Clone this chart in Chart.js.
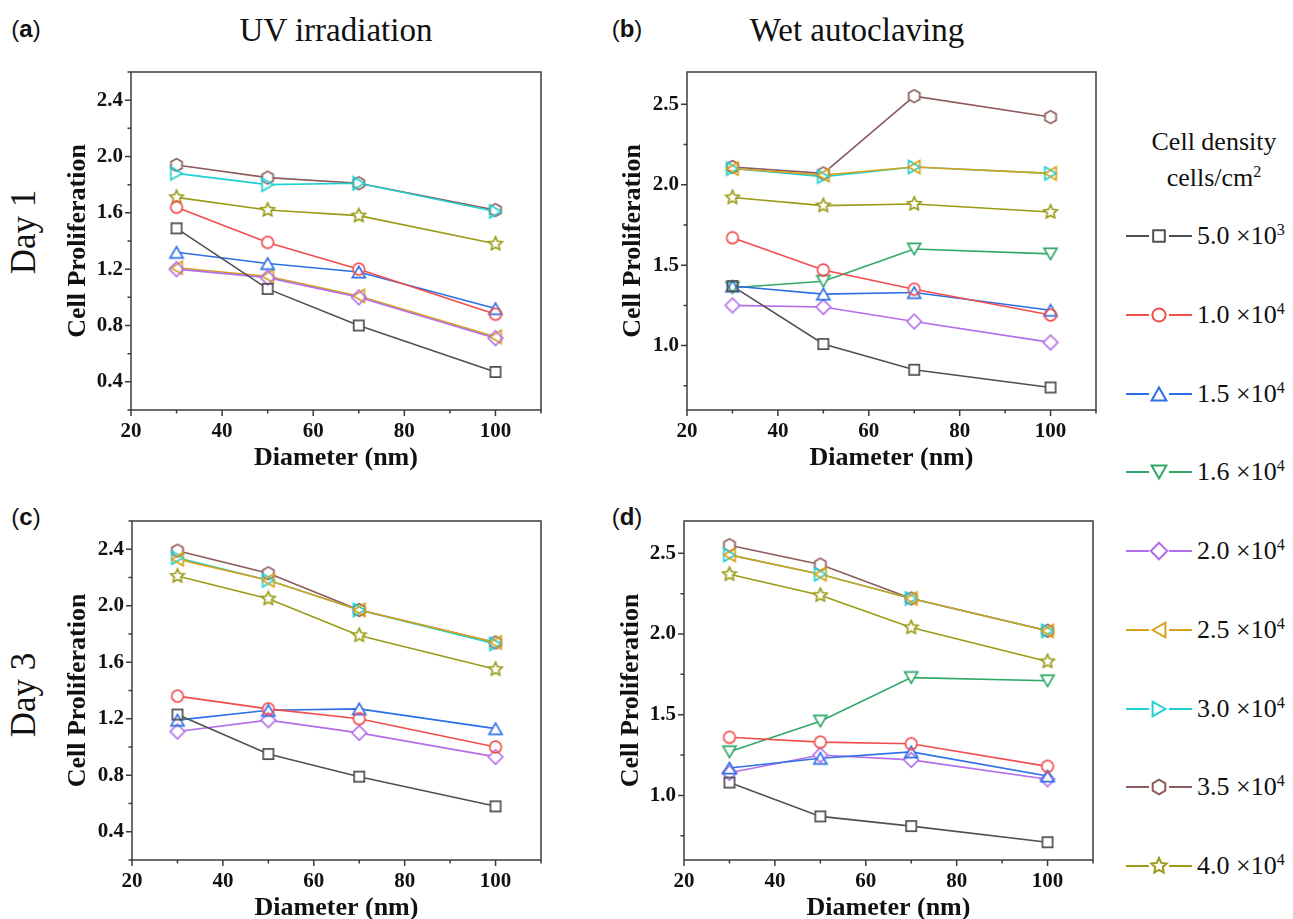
<!DOCTYPE html>
<html>
<head>
<meta charset="utf-8">
<script src="https://cdn.jsdelivr.net/npm/chart.js@4.4.1/dist/chart.umd.min.js"></script>
<style>
  body { margin: 0; background: #fff; }
  #page { position: relative; width: 1293px; height: 919px; overflow: hidden; font-family: "Liberation Serif", serif; color: #111; }
  .hdr { position: absolute; font-size: 33px; transform: translate(-50%, -50%); white-space: nowrap; }
  .tag { position: absolute; font-family: "Liberation Sans", Arial, sans-serif; font-size: 24px; transform: translate(-50%, -50%); }
  .day { position: absolute; font-size: 35px; transform: translate(-50%, -50%) rotate(-90deg); white-space: nowrap; }
  .legTitle { position: absolute; font-size: 26px; transform: translate(-50%, -50%); white-space: nowrap; }
  .legRow { position: absolute; left: 1126px; height: 24px; display: flex; align-items: center; }
  .legRow span { font-size: 26px; margin-left: 5px; white-space: nowrap; }
  sup { font-size: 0.62em; vertical-align: 0; position: relative; top: -0.55em; }
  canvas { position: absolute; }
</style>
</head>
<body>
<div id="page">
  <div class="tag" style="left:26px; top:29px;">(<b>a</b>)</div>
  <div class="tag" style="left:627px; top:29px;">(<b>b</b>)</div>
  <div class="tag" style="left:26px; top:517px;">(<b>c</b>)</div>
  <div class="tag" style="left:627px; top:517px;">(<b>d</b>)</div>
  <div class="hdr" style="left:336px; top:30px;">UV irradiation</div>
  <div class="hdr" style="left:857px; top:30px;">Wet autoclaving</div>
  <div class="day" style="left:24px; top:232px;">Day 1</div>
  <div class="day" style="left:24px; top:695px;">Day 3</div>
  <div class="legTitle" style="left:1214px; top:142px;">Cell density</div>
  <div class="legTitle" style="left:1214px; top:178px;">cells/cm<sup>2</sup></div>
</div>
<script>
// x positions (nm)
const diameters = [30, 50, 70, 100];

// legend / series info
const densityBase = ['5.0', '1.0', '1.5', '1.6', '2.0', '2.5', '3.0', '3.5', '4.0'];
const densityExp = [3, 4, 4, 4, 4, 4, 4, 4, 4];
const seriesColors = ['#505050', '#f24d4d', '#2d6fe6', '#2ea866', '#b26ee8', '#d6a11a', '#1fd0d0', '#8c5a5a', '#9b9b17'];
const seriesShapes = ['square', 'circle', 'triUp', 'triDown', 'diamond', 'triLeft', 'triRight', 'hexagon', 'star'];

// (a) UV irradiation, day 1  (null = series not measured)
const uvDay1 = [
    [1.49, 1.06, 0.80, 0.47],
    [1.64, 1.39, 1.20, 0.88],
    [1.32, 1.24, 1.18, 0.92],
    null,
    [1.20, 1.14, 1.00, 0.71],
    [1.21, 1.15, 1.01, 0.72],
    [1.88, 1.80, 1.81, 1.61],
    [1.94, 1.85, 1.81, 1.62],
    [1.71, 1.62, 1.58, 1.38]
];
// (b) wet autoclaving, day 1
const wetDay1 = [
    [1.37, 1.01, 0.85, 0.74],
    [1.67, 1.47, 1.35, 1.19],
    [1.37, 1.32, 1.33, 1.22],
    [1.36, 1.40, 1.60, 1.57],
    [1.25, 1.24, 1.15, 1.02],
    [2.10, 2.06, 2.11, 2.07],
    [2.10, 2.05, 2.11, 2.07],
    [2.11, 2.07, 2.55, 2.42],
    [1.92, 1.87, 1.88, 1.83]
];
// (c) UV irradiation, day 3
const uvDay3 = [
    [1.23, 0.95, 0.79, 0.58],
    [1.36, 1.27, 1.20, 1.00],
    [1.19, 1.26, 1.27, 1.13],
    null,
    [1.11, 1.19, 1.10, 0.93],
    [2.33, 2.18, 1.97, 1.74],
    [2.34, 2.18, 1.97, 1.73],
    [2.39, 2.23, 1.97, 1.74],
    [2.21, 2.05, 1.79, 1.55]
];
// (d) wet autoclaving, day 3
const wetDay3 = [
    [1.08, 0.87, 0.81, 0.71],
    [1.36, 1.33, 1.32, 1.18],
    [1.17, 1.23, 1.27, 1.12],
    [1.27, 1.46, 1.73, 1.71],
    [1.14, 1.25, 1.22, 1.10],
    [2.49, 2.37, 2.22, 2.02],
    [2.49, 2.37, 2.22, 2.02],
    [2.55, 2.43, 2.22, 2.02],
    [2.37, 2.24, 2.04, 1.83]
];

// axis ticks
const xTicks = [20, 30, 40, 50, 60, 70, 80, 90, 100, 110];
const xLabelled = [20, 40, 60, 80, 100];
const uvTicks = [0.2, 0.4, 0.6, 0.8, 1.0, 1.2, 1.4, 1.6, 1.8, 2.0, 2.2, 2.4, 2.6];
const uvLabelled = [0.4, 0.8, 1.2, 1.6, 2.0, 2.4];
const wetTicks = [0.75, 1.0, 1.25, 1.5, 1.75, 2.0, 2.25, 2.5];
const wetLabelled = [1.0, 1.5, 2.0, 2.5];

const SERIF = "'Liberation Serif', 'Times New Roman', serif";
const TITLE_SIZE = 26;
const TITLE_HALF = TITLE_SIZE * 1.2 / 2;

function tracePath(ctx, shape, cx, cy, r) {
    ctx.beginPath();
    const w = r * 1.12, h = w * 1.732;
    if (shape === 'square') {
        const s = r * 0.88;
        ctx.rect(cx - s, cy - s, 2 * s, 2 * s);
    } else if (shape === 'circle') {
        ctx.arc(cx, cy, r, 0, Math.PI * 2);
    } else if (shape === 'triUp') {
        ctx.moveTo(cx, cy - h / 2); ctx.lineTo(cx + w, cy + h / 2); ctx.lineTo(cx - w, cy + h / 2); ctx.closePath();
    } else if (shape === 'triDown') {
        ctx.moveTo(cx, cy + h / 2); ctx.lineTo(cx + w, cy - h / 2); ctx.lineTo(cx - w, cy - h / 2); ctx.closePath();
    } else if (shape === 'triLeft') {
        ctx.moveTo(cx - h / 2, cy); ctx.lineTo(cx + h / 2, cy - w); ctx.lineTo(cx + h / 2, cy + w); ctx.closePath();
    } else if (shape === 'triRight') {
        ctx.moveTo(cx + h / 2, cy); ctx.lineTo(cx - h / 2, cy - w); ctx.lineTo(cx - h / 2, cy + w); ctx.closePath();
    } else if (shape === 'diamond') {
        const d = r * 1.25;
        ctx.moveTo(cx, cy - d); ctx.lineTo(cx + d, cy); ctx.lineTo(cx, cy + d); ctx.lineTo(cx - d, cy); ctx.closePath();
    } else if (shape === 'hexagon') {
        const R = r * 1.1;
        for (let k = 0; k < 6; k++) {
            const a = -Math.PI / 2 + k * Math.PI / 3;
            const px = cx + R * Math.cos(a), py = cy + R * Math.sin(a);
            if (k === 0) ctx.moveTo(px, py); else ctx.lineTo(px, py);
        }
        ctx.closePath();
    } else if (shape === 'star') {
        const R = r * 1.22, ri = R * 0.48;
        for (let k = 0; k < 10; k++) {
            const a = -Math.PI / 2 + k * Math.PI / 5;
            const rr = k % 2 === 0 ? R : ri;
            const px = cx + rr * Math.cos(a), py = cy + rr * Math.sin(a);
            if (k === 0) ctx.moveTo(px, py); else ctx.lineTo(px, py);
        }
        ctx.closePath();
    }
}

// small canvases used as point styles: hollow outline, and a white knock-out under it
function makeMarker(shape, color, r, knockout) {
    const c = document.createElement('canvas');
    c.width = 24; c.height = 24;
    const g = c.getContext('2d');
    tracePath(g, shape, 12, 12, r);
    if (knockout) {
        g.fillStyle = '#fff';
        g.fill();
    } else {
        g.lineWidth = 1.7;
        g.lineJoin = 'miter';
        g.strokeStyle = color;
        g.stroke();
    }
    return c;
}

const outlineMarks = seriesShapes.map((s, i) => makeMarker(s, seriesColors[i], 5.8, false));
const knockMarks = seriesShapes.map((s, i) => makeMarker(s, seriesColors[i], 5.8, true));

// frame + outward major/minor ticks
const frameTicks = {
    id: 'frameTicks',
    beforeDatasetsDraw(chart, args, opts) {
        const {ctx, chartArea: a, scales: {x, y}} = chart;
        ctx.save();
        ctx.strokeStyle = '#3c3c3c';
        ctx.lineWidth = 1.5;
        ctx.strokeRect(a.left, a.top, a.right - a.left, a.bottom - a.top);
        ctx.beginPath();
        x.ticks.forEach(t => {
            const px = x.getPixelForValue(t.value);
            const len = xLabelled.includes(t.value) ? 6 : 3.5;
            ctx.moveTo(px, a.bottom); ctx.lineTo(px, a.bottom + len);
        });
        y.ticks.forEach(t => {
            const py = y.getPixelForValue(t.value);
            const len = opts.yMajor.includes(t.value) ? 6 : 3.5;
            ctx.moveTo(a.left, py); ctx.lineTo(a.left - len, py);
        });
        ctx.stroke();
        ctx.restore();
    }
};

function makePanel(frame, titleX, values, yMin, yMax, yTicks, yLabelled) {
    const left = Math.round(titleX - TITLE_HALF);
    const top = frame.t - 16;
    const yw = frame.l - left;
    const xh = Math.round(48 + TITLE_HALF);
    const cv = document.createElement('canvas');
    cv.width = frame.r + 8 - left;
    cv.height = frame.b + xh - top;
    cv.style.left = left + 'px';
    cv.style.top = top + 'px';
    document.getElementById('page').appendChild(cv);

    const datasets = [];
    values.forEach((vals, i) => {
        if (!vals) return;
        const pts = diameters.map((d, j) => ({x: d, y: vals[j]}));
        datasets.push({data: pts, borderColor: seriesColors[i], borderWidth: 1.6, pointRadius: 0, order: 3, tension: 0});
        datasets.push({data: pts, showLine: false, pointStyle: knockMarks[i], pointRadius: 5, order: 2});
        datasets.push({data: pts, showLine: false, pointStyle: outlineMarks[i], pointRadius: 5, order: 1});
    });

    const tickFont = {family: SERIF, size: 21, weight: 'bold'};
    const titleFont = {family: SERIF, size: TITLE_SIZE, weight: 'bold', lineHeight: 1.2};

    new Chart(cv.getContext('2d'), {
        type: 'line',
        data: {datasets},
        options: {
            responsive: false,
            animation: false,
            events: [],
            layout: {padding: {top: 16, right: 8, left: 0, bottom: 0}},
            plugins: {legend: {display: false}, tooltip: {enabled: false}, frameTicks: {yMajor: yLabelled}},
            scales: {
                x: {
                    type: 'linear', min: 20, max: 110,
                    afterBuildTicks: s => { s.ticks = xTicks.map(v => ({value: v})); },
                    afterFit: s => { s.height = xh; },
                    grid: {drawOnChartArea: false, tickLength: 6, tickColor: 'rgba(0,0,0,0)'},
                    border: {display: false},
                    ticks: {
                        padding: 3, color: '#111', font: tickFont, autoSkip: false, maxRotation: 0,
                        callback: v => xLabelled.includes(v) ? String(v) : ''
                    },
                    title: {display: true, text: 'Diameter (nm)', padding: 0, color: '#111', font: titleFont}
                },
                y: {
                    type: 'linear', min: yMin, max: yMax,
                    afterBuildTicks: s => { s.ticks = yTicks.map(v => ({value: v})); },
                    afterFit: s => { s.width = yw; },
                    grid: {drawOnChartArea: false, tickLength: 6, tickColor: 'rgba(0,0,0,0)'},
                    border: {display: false},
                    ticks: {
                        padding: 2, color: '#111', font: tickFont, autoSkip: false,
                        callback: v => yLabelled.includes(v) ? v.toFixed(1) : ''
                    },
                    title: {display: true, text: 'Cell Proliferation', padding: 0, color: '#111', font: titleFont}
                }
            }
        },
        plugins: [frameTicks]
    });
}

makePanel({l: 131, t: 72, r: 541, b: 410}, 79, uvDay1, 0.2, 2.6, uvTicks, uvLabelled);
makePanel({l: 687, t: 72, r: 1096, b: 410}, 634, wetDay1, 0.6, 2.7, wetTicks, wetLabelled);
makePanel({l: 132, t: 521, r: 541, b: 860}, 79, uvDay3, 0.2, 2.6, uvTicks, uvLabelled);
makePanel({l: 684, t: 521, r: 1093, b: 860}, 632, wetDay3, 0.6, 2.7, wetTicks, wetLabelled);

// legend: line - marker - line, then the density text
const page = document.getElementById('page');
densityBase.forEach((b, i) => {
    const row = document.createElement('div');
    row.className = 'legRow';
    row.style.top = (236 + i * 78.75 - 12) + 'px';
    const c = document.createElement('canvas');
    c.width = 66; c.height = 24;
    c.style.position = 'static';
    const g = c.getContext('2d');
    g.strokeStyle = seriesColors[i];
    g.lineWidth = 1.8;
    g.beginPath();
    g.moveTo(0, 12); g.lineTo(23, 12);
    g.moveTo(43, 12); g.lineTo(66, 12);
    g.stroke();
    tracePath(g, seriesShapes[i], 33, 12, 6.6);
    g.lineWidth = 2;
    g.stroke();
    row.appendChild(c);
    const t = document.createElement('span');
    t.innerHTML = b + ' \u00d710<sup>' + densityExp[i] + '</sup>';
    row.appendChild(t);
    page.appendChild(row);
});
</script>
</body>
</html>
